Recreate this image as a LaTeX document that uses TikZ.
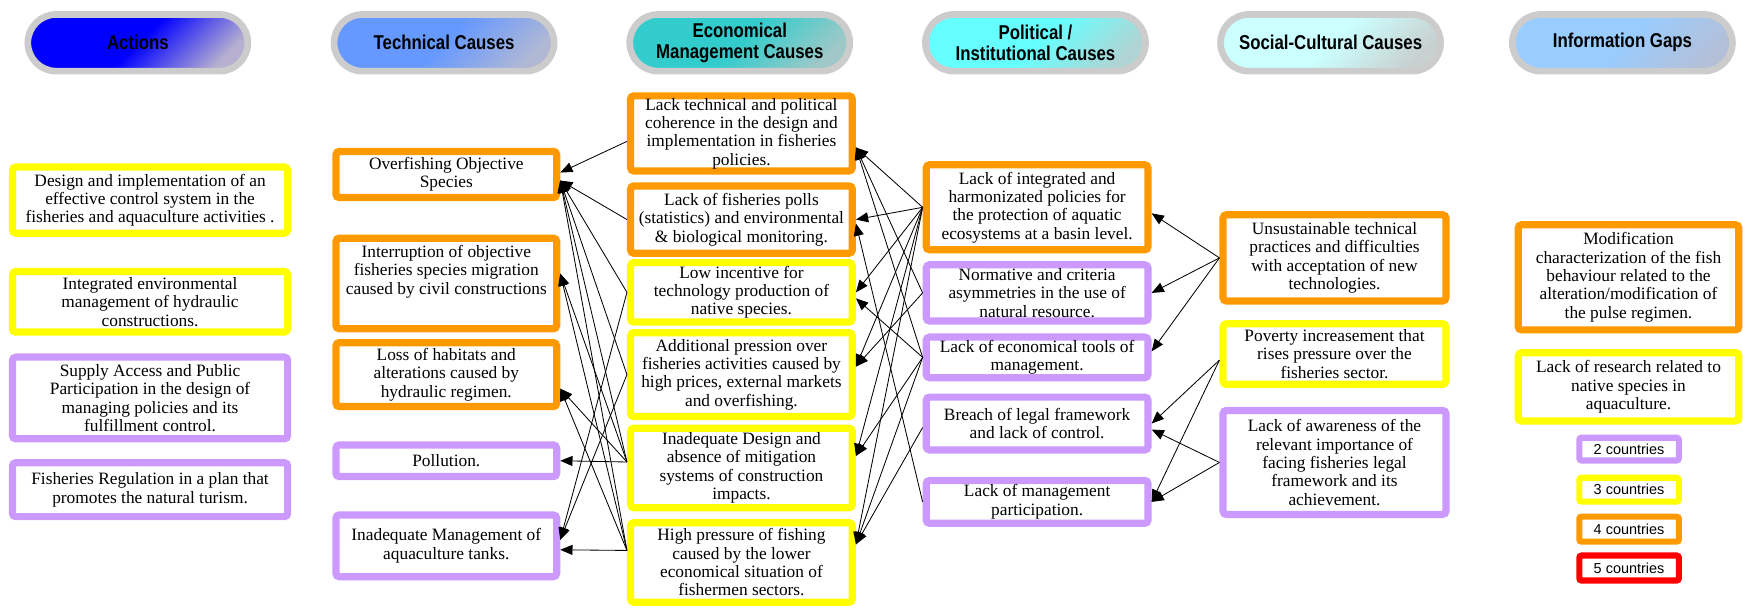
\documentclass[tikz,border=0pt]{standalone}
\usepackage{fontspec}
\setmainfont{Liberation Serif}
\newfontfamily\headfont[FakeStretch=0.84]{Liberation Sans}
\newfontfamily\keyfont{Liberation Sans}
\usetikzlibrary{arrows.meta,shapes.misc}

% border colours (number of countries)
\definecolor{cpurple}{HTML}{CC99FF}
\definecolor{cyellow}{HTML}{FFFF00}
\definecolor{corange}{HTML}{FF9900}
\definecolor{cred}{HTML}{FF0000}
\definecolor{ring}{HTML}{CCCCCC}
% header fills: main colour and the faded corner colour
\definecolor{hA}{HTML}{0000FF}\definecolor{hAb}{HTML}{B8B0D0}
\definecolor{hT}{HTML}{6699FF}\definecolor{hTb}{HTML}{B0B8D4}
\definecolor{hE}{HTML}{33CCCC}\definecolor{hEb}{HTML}{A0C8C8}
\definecolor{hP}{HTML}{66FFFF}\definecolor{hPb}{HTML}{B0D4D4}
\definecolor{hS}{HTML}{CCFFFF}\definecolor{hSb}{HTML}{C8D0D0}
\definecolor{hI}{HTML}{99CCFF}\definecolor{hIb}{HTML}{B4C0D8}
\colorlet{hca}{hA}\colorlet{hcb}{hAb}

% solid fill that fades only towards one corner
\pgfdeclareverticalshading[hca,hcb]{hdrfade}{100bp}{%
  color(0bp)=(hcb); color(24bp)=(hcb); color(50bp)=(hca); color(100bp)=(hca)}

\tikzset{
  box/.style={draw=#1, line width=6.5pt, rounded corners=3pt, fill=white,
    align=center, inner sep=0pt, font=\fontsize{15.6}{16.5}\selectfont},
  colA/.style={minimum width=247.5pt},
  colT/.style={minimum width=198.5pt},
  colE/.style={minimum width=199.5pt},
  colP/.style={minimum width=199.5pt},
  colS/.style={minimum width=200.5pt},
  colI/.style={minimum width=198.5pt},
  hdr/.style 2 args={rounded rectangle, draw=ring, line width=6pt,
    minimum width=198pt, minimum height=51pt,
    /utils/exec={\colorlet{hca}{#1}\colorlet{hcb}{#2}},
    shading=hdrfade, shading angle=45, shade,
    font=\headfont\bfseries\fontsize{18}{19}\selectfont, align=center, inner sep=0pt},
  keybox/.style={draw=#1, line width=5.5pt, rounded corners=2pt, fill=white,
    minimum width=89.5pt, inner sep=0pt, font=\keyfont\fontsize{13}{15}\selectfont},
  link/.style={-{Triangle[length=11pt,width=9pt]}, line width=0.75pt},
}

\begin{document}
\begin{tikzpicture}[x=1pt,y=-1pt]
\useasboundingbox (0,0) rectangle (1568,549);

% ---------- column headers ----------
\node[hdr={hA}{hAb}] (hAct) at (124,38.5) {Actions};
\node[hdr={hT}{hTb}] (hTec) at (399.5,38.5) {Technical Causes};
\node[hdr={hE}{hEb}] (hEco) at (665.5,38.5) {Economical\\Management Causes};
\node[hdr={hP}{hPb}] (hPol) at (931.5,38.5) {Political /\\Institutional Causes};
\node[hdr={hS}{hSb}] (hSoc) at (1197,38.5) {Social-Cultural Causes};
\node[hdr={hI}{hIb}] (hInf) at (1459.5,38.5) {Information Gaps};

% ---------- actions ----------
\node[box=cyellow, colA, minimum height=59.5pt] (A1) at (135,180)
  {Design and implementation of an\\effective control system in the\\fisheries and aquaculture activities .};
\node[box=cyellow, colA, minimum height=54.5pt] (A2) at (135,271.5)
  {Integrated environmental\\management of hydraulic\\constructions.};
\node[box=cpurple, colA, minimum height=73.5pt] (A3) at (135,358)
  {Supply Access and Public\\Participation in the design of\\managing policies and its\\fulfillment control.};
\node[box=cpurple, colA, minimum height=48.5pt] (A4) at (135,440.5)
  {Fisheries Regulation in a plan that\\promotes the natural turism.};

% ---------- technical causes ----------
\node[box=corange, colT, minimum height=41.5pt] (T1) at (401.5,157)
  {Overfishing Objective\\Species};
\node[box=corange, colT, minimum height=81.5pt, text depth=25pt] (T2) at (401.5,255)
  {Interruption of objective\\fisheries species migration\\caused by civil constructions};
\node[box=corange, colT, minimum height=57.5pt] (T3) at (401.5,337)
  {Loss of habitats and\\alterations caused by\\hydraulic regimen.};
\node[box=cpurple, colT, minimum height=28.5pt] (T4) at (401.5,414.5)
  {Pollution.};
\node[box=cpurple, colT, minimum height=55.5pt] (T5) at (401.5,491)
  {Inadequate Management of\\aquaculture tanks.};

% ---------- economical / management causes ----------
\node[box=corange, colE, minimum height=67.5pt] (E1) at (667,120)
  {Lack technical and political\\coherence in the design and\\implementation in fisheries\\policies.};
\node[box=corange, colE, minimum height=60.5pt] (E2) at (667,197.5)
  {Lack of fisheries polls\\(statistics) and environmental\\\& biological monitoring.};
\node[box=cyellow, colE, minimum height=53.5pt] (E3) at (667,263)
  {Low incentive for\\technology production of\\native species.};
\node[box=cyellow, colE, minimum height=75.5pt] (E4) at (667,337)
  {Additional pression over\\fisheries activities caused by\\high prices, external markets\\and overfishing.};
\node[box=cyellow, colE, minimum height=71.5pt] (E5) at (667,421)
  {Inadequate Design and\\absence of mitigation\\systems of construction\\impacts.};
\node[box=cyellow, colE, minimum height=71.5pt] (E6) at (667,506)
  {High pressure of fishing\\caused by the lower\\economical situation of\\fishermen sectors.};

% ---------- political / institutional causes ----------
\node[box=corange, colP, minimum height=76.5pt] (P1) at (933,186.5)
  {Lack of integrated and\\harmonizated policies for\\the protection of aquatic\\ecosystems at a basin level.};
\node[box=cpurple, colP, minimum height=50.5pt] (P2) at (933,263.5)
  {Normative and criteria\\asymmetries in the use of\\natural resource.};
\node[box=cpurple, colP, minimum height=36.5pt] (P3) at (933,321.5)
  {Lack of economical tools of\\management.};
\node[box=cpurple, colP, minimum height=47.5pt] (P4) at (933,381)
  {Breach of legal framework\\and lack of control.};
\node[box=cpurple, colP, minimum height=38.5pt] (P5) at (933,451.5)
  {Lack of management\\participation.};

% ---------- social-cultural causes ----------
\node[box=corange, colS, minimum height=77.5pt] (S1) at (1200.5,232)
  {Unsustainable technical\\practices and difficulties\\with acceptation of new\\technologies.};
\node[box=cyellow, colS, minimum height=54.5pt] (S2) at (1200.5,318.5)
  {Poverty increasement that\\rises pressure over the\\fisheries sector.};
\node[box=cpurple, colS, minimum height=93.5pt] (S3) at (1200.5,416)
  {Lack of awareness of the\\relevant importance of\\facing fisheries legal\\framework and its\\achievement.};

% ---------- information gaps ----------
\node[box=corange, colI, minimum height=94.5pt] (I1) at (1465,249.5)
  {Modification\\characterization of the fish\\behaviour related to the\\alteration/modification of\\the pulse regimen.};
\node[box=cyellow, colI, minimum height=61.5pt] (I2) at (1465,348)
  {Lack of research related to\\native species in\\aquaculture.};

% ---------- key ----------
\node[keybox=cpurple, minimum height=20.5pt] (K2) at (1465.5,404) {2 countries};
\node[keybox=cyellow, minimum height=21.5pt] (K3) at (1465.5,440.5) {3 countries};
\node[keybox=corange, minimum height=22.5pt] (K4) at (1465.5,476) {4 countries};
\node[keybox=cred, minimum height=22.5pt] (K5) at (1465.5,511) {5 countries};

% ---------- economical -> technical ----------
\draw[link] (E1.184) -- (T1.1);
\draw[link] (E2.west) -- (T1.-3);
\draw[link] (E3.west) -- (T1.-3);
\draw[link] (E4.west) -- (T1.-3);
\draw[link] (E5.177) -- (T1.-3);
\draw[link] (E6.174) -- (T1.-3);
\draw[link] (E5.177) -- (T2.5);
\draw[link] (E6.174) -- (T2.5);
\draw[link] (E5.177) -- (T3.-7);
\draw[link] (E6.174) -- (T3.-7);
\draw[link] (E5.177) -- (T4.east);
\draw[link] (E3.west) -- (T5.3);
\draw[link] (E4.west) -- (T5.3);
\draw[link] (E6.174) -- (T5.-2);

% ---------- political -> economical ----------
\draw[link] (P1.west) -- (E1.-7);
\draw[link] (P1.west) -- (E2.east);
\draw[link] (P1.west) -- (E3.east);
\draw[link] (P1.west) -- (E4.4);
\draw[link] (P1.west) -- (E5.6.7);
\draw[link] (P1.west) -- (E6.9.6);
\draw[link] (P2.west) -- (E1.-7);
\draw[link] (P2.west) -- (E4.4);
\draw[link] (P3.west) -- (E1.-7);
\draw[link] (P3.west) -- (E3.-3);
\draw[link] (P3.west) -- (E5.6.7);
\draw[link] (P3.west) -- (E6.9.6);
\draw[link] (P4.182) -- (E6.9.6);
\draw[link] (P5.west) -- (E2.-2.5);

% ---------- social-cultural -> political ----------
\draw[link] (S1.west) -- (P1.-3);
\draw[link] (S1.west) -- (P2.east);
\draw[link] (S1.west) -- (P3.3);
\draw[link] (S2.183) -- (P4.east);
\draw[link] (S2.183) -- (P5.east);
\draw[link] (S3.west) -- (P4.-3);
\draw[link] (S3.west) -- (P5.east);
\end{tikzpicture}
\end{document}
